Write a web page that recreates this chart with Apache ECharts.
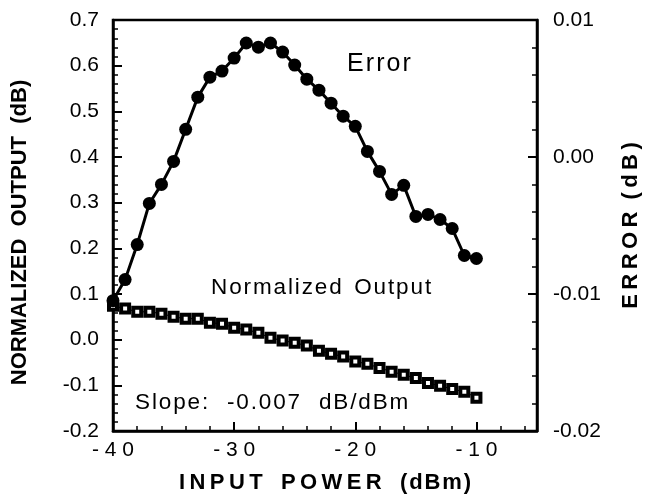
<!DOCTYPE html>
<html>
<head>
<meta charset="utf-8">
<script src="https://cdn.jsdelivr.net/npm/echarts@6/dist/echarts.min.js"></script>
<style>
html,body{margin:0;padding:0;background:#fff;}
#main{width:653px;height:498px;}
</style>
</head>
<body>
<div id="main"></div>
<script>
// Input power (dBm)
const inputPower = [-40,-39,-38,-37,-36,-35,-34,-33,-32,-31,-30,-29,-28,-27,-26,-25,-24,-23,-22,-21,-20,-19,-18,-17,-16,-15,-14,-13,-12,-11,-10];
// Normalized output (dB), left axis
const normalizedOutput = [0.074,0.068,0.061,0.061,0.057,0.050,0.046,0.046,0.037,0.035,0.026,0.022,0.015,0.004,-0.002,-0.007,-0.013,-0.024,-0.031,-0.037,-0.048,-0.053,-0.062,-0.070,-0.077,-0.084,-0.095,-0.101,-0.108,-0.114,-0.127];
// Error (dB), right axis
const errorValues = [-0.01049,-0.00895,-0.00639,-0.00339,-0.00200,-0.00032,0.00202,0.00437,0.00583,0.00627,0.00722,0.00832,0.00802,0.00832,0.00766,0.00671,0.00568,0.00488,0.00393,0.00298,0.00224,0.00041,-0.00105,-0.00273,-0.00207,-0.00434,-0.00419,-0.00456,-0.00522,-0.00719,-0.00741];
// Tick settings
const xTicks = {min:-40, max:-5, major:10, minor:2};
const leftTicks = {min:-0.2, max:0.7, interval:0.1};
const rightTicks = {min:-0.02, max:0.01, interval:0.01};

const FONT = 'Liberation Sans, Arial, Helvetica, sans-serif';
const HAIR = '\u200A', THIN = '\u2009';
const spread = (s, g) => s.split('').join(g);
const chart = echarts.init(document.getElementById('main'));

chart.setOption({
  animation:false,
  backgroundColor:'#fff',
  grid:{left:113, right:116, top:20, bottom:67, containLabel:false, outerBoundsMode:'none',
        show:true, borderColor:'#000', borderWidth:2.5},
  xAxis:[{
    type:'value', min:xTicks.min, max:xTicks.max, interval:xTicks.major,
    name: spread('INPUT', THIN) + '   ' + spread('POWER', THIN) + '   ' + spread('(dBm)', HAIR),
    nameLocation:'middle', nameGap:41,
    nameTextStyle:{fontFamily:FONT, fontWeight:'bold', fontSize:22, color:'#000'},
    axisLine:{show:true, onZero:false, lineStyle:{color:'#000', width:2.5}},
    axisTick:{show:true, inside:true, length:9, lineStyle:{color:'#000', width:2}},
    axisLabel:{fontFamily:FONT, fontSize:21, color:'#000', margin:9,
      formatter:v => (v === xTicks.max ? '' : spread(String(v), ' '))},
    splitLine:{show:false}
  },{
    type:'value', min:xTicks.min, max:xTicks.max, interval:xTicks.minor, position:'bottom',
    axisLine:{show:false, onZero:false},
    axisTick:{show:true, inside:true, length:5, lineStyle:{color:'#000', width:1.5}},
    axisLabel:{show:false}, splitLine:{show:false}
  }],
  yAxis:[{
    type:'value', min:leftTicks.min, max:leftTicks.max, interval:leftTicks.interval,
    name:'NORMALIZED  OUTPUT  (dB)', nameLocation:'middle', nameGap:82,
    nameTextStyle:{fontFamily:FONT, fontWeight:'bold', fontSize:22, color:'#000', padding:[0,14,0,0]},
    axisLine:{show:true, onZero:false, lineStyle:{color:'#000', width:2.5}},
    axisTick:{show:true, inside:true, length:9, lineStyle:{color:'#000', width:2}},
    minorTick:{show:true, splitNumber:5, length:5, lineStyle:{color:'#000', width:1.5}},
    axisLabel:{fontFamily:FONT, fontSize:21, color:'#000', margin:14, formatter:v => v.toFixed(1)},
    splitLine:{show:false}
  },{
    type:'value', min:rightTicks.min, max:rightTicks.max, interval:rightTicks.interval, position:'right',
    name: spread('ERROR', THIN) + '  ' + spread('(dB)', THIN), nameLocation:'middle', nameGap:83, nameRotate:90,
    nameTextStyle:{fontFamily:FONT, fontWeight:'bold', fontSize:22, color:'#000'},
    axisLine:{show:true, onZero:false, lineStyle:{color:'#000', width:2.5}},
    axisTick:{show:true, inside:true, length:9, lineStyle:{color:'#000', width:2}},
    minorTick:{show:true, splitNumber:5, length:5, lineStyle:{color:'#000', width:1.5}},
    axisLabel:{fontFamily:FONT, fontSize:21, color:'#000', margin:16, formatter:v => v.toFixed(2)},
    splitLine:{show:false}
  }],
  series:[{
    name:'Normalized Output', type:'line', xAxisIndex:0, yAxisIndex:0,
    data:inputPower.map((x,i)=>[x, normalizedOutput[i]]),
    symbol:'rect', symbolSize:8,
    itemStyle:{color:'#fff', borderColor:'#000', borderWidth:4},
    lineStyle:{color:'#000', width:1}, z:3
  },{
    name:'Error', type:'line', xAxisIndex:0, yAxisIndex:1,
    data:inputPower.map((x,i)=>[x, errorValues[i]]),
    symbol:'circle', symbolSize:13,
    itemStyle:{color:'#000'},
    lineStyle:{color:'#000', width:3}, z:4
  }],
  graphic:[
    {type:'text', x:347, y:64, style:{text:spread('Error', HAIR), font:'25px '+FONT, fill:'#000', verticalAlign:'middle'}},
    {type:'text', x:211, y:288, style:{text:spread('Normalized', HAIR)+'  '+spread('Output', HAIR), font:'22.5px '+FONT, fill:'#000', verticalAlign:'middle'}},
    {type:'text', x:135, y:403, style:{text:spread('Slope:', HAIR)+'   '+spread('-0.007', HAIR)+'   '+spread('dB/dBm', HAIR), font:'22.5px '+FONT, fill:'#000', verticalAlign:'middle'}}
  ]
});
</script>
</body>
</html>
